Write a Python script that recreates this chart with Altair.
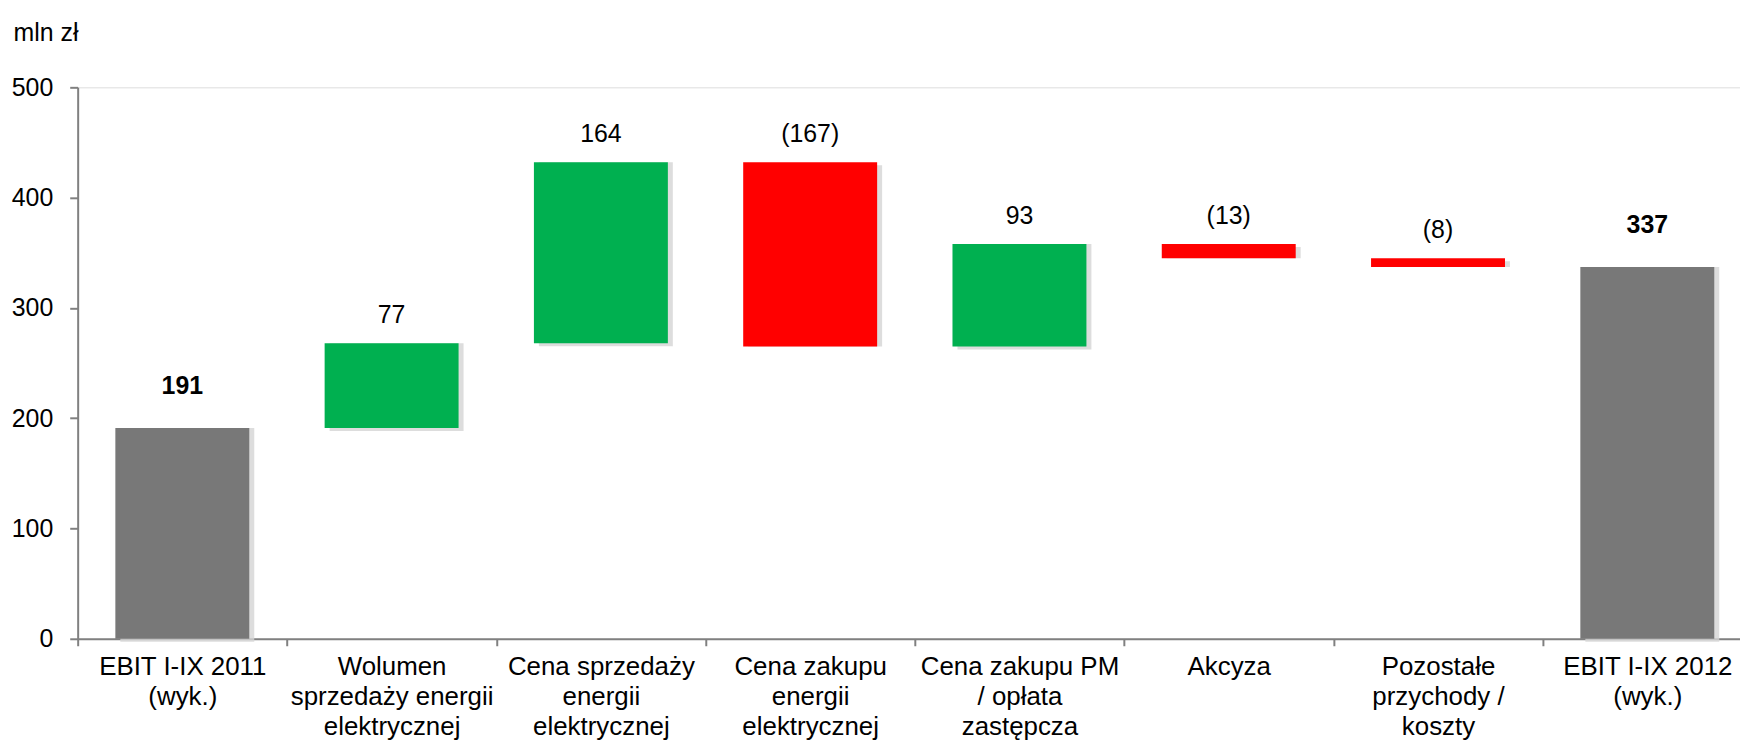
import altair as alt
import pandas as pd

categories = [
    "EBIT I-IX 2011|(wyk.)",
    "Wolumen|sprzedaży energii|elektrycznej",
    "Cena sprzedaży|energii|elektrycznej",
    "Cena zakupu|energii|elektrycznej",
    "Cena zakupu PM|/ opłata|zastępcza",
    "Akcyza",
    "Pozostałe|przychody /|koszty",
    "EBIT I-IX 2012|(wyk.)",
]
changes = [191, 77, 164, -167, 93, -13, -8, 337]
kinds = ["total", "up", "up", "down", "up", "down", "down", "total"]

rows = []
running = 0
for cat, val, kind in zip(categories, changes, kinds):
    if kind == "total":
        start, end = 0, val
        running = val
        label = f"{val}"
    else:
        start = running
        end = running + val
        running = end
        label = f"({abs(val)})" if val < 0 else f"{val}"
    rows.append({"cat": cat, "start": start, "end": end, "kind": kind,
                 "top": max(start, end), "label": label})
df = pd.DataFrame(rows)

FONT = "Liberation Sans"

xscale = alt.Scale(paddingInner=0, paddingOuter=0, range=[0, 1682])

x = alt.X("cat:N", sort=categories, title=None, scale=xscale,
          axis=alt.Axis(labelExpr="split(datum.label, '|')", labelAngle=0,
                        labelBaseline="top", labelLineHeight=30,
                        labelFontSize=26, labelFont=FONT, labelColor="#000000",
                        tickBand="extent", tickSize=7, tickWidth=2,
                        tickColor="#808080", domainColor="#808080",
                        domainWidth=2, labelPadding=8, labelLimit=400))

y = alt.Y("start:Q", title="mln zł",
          scale=alt.Scale(domain=[0, 500], nice=False),
          axis=alt.Axis(values=[0, 100, 200, 300, 400, 500], grid=False,
                        labelFontSize=25, labelFont=FONT, labelColor="#000000",
                        tickSize=8, tickWidth=2, tickColor="#808080",
                        domainColor="#808080", domainWidth=2,
                        labelPadding=17,
                        titleAngle=0, titleX=-65, titleY=-47,
                        titleAlign="left", titleBaseline="alphabetic",
                        titleFont=FONT, titleFontSize=25,
                        titleFontWeight="normal", titleColor="#000000"))

shadow = alt.Chart(df).mark_bar(
    width={"band": 0.64}, xOffset=5, yOffset=3, color="#d4d4d4", opacity=0.8
).encode(x=x, y=y, y2="end:Q")

bars = alt.Chart(df).mark_bar(width={"band": 0.64}).encode(
    x=x,
    y=y,
    y2="end:Q",
    color=alt.Color("kind:N", legend=None,
                    scale=alt.Scale(domain=["total", "up", "down"],
                                    range=["#787878", "#00B050", "#FF0000"])),
)

txt_norm = alt.Chart(df).transform_filter("datum.kind != 'total'").mark_text(
    font=FONT, fontSize=25, color="#000000", baseline="middle", dy=-28
).encode(x=alt.X("cat:N", sort=categories), y="top:Q", text="label:N")

txt_tot = alt.Chart(df).transform_filter("datum.kind == 'total'").mark_text(
    font=FONT, fontSize=25, fontWeight="bold", color="#000000",
    baseline="middle", dy=-42
).encode(x=alt.X("cat:N", sort=categories), y="top:Q", text="label:N")

chart = alt.layer(shadow, bars, txt_norm, txt_tot).properties(
    width=1670, height=554,
    autosize=alt.AutoSizeParams(type="none"),
    padding={"left": 70, "top": 78, "right": 0, "bottom": 101},
).configure_view(stroke=None).configure(background="#ffffff")

chart.save("out.html", embed_options={"renderer": "svg", "actions": False})
